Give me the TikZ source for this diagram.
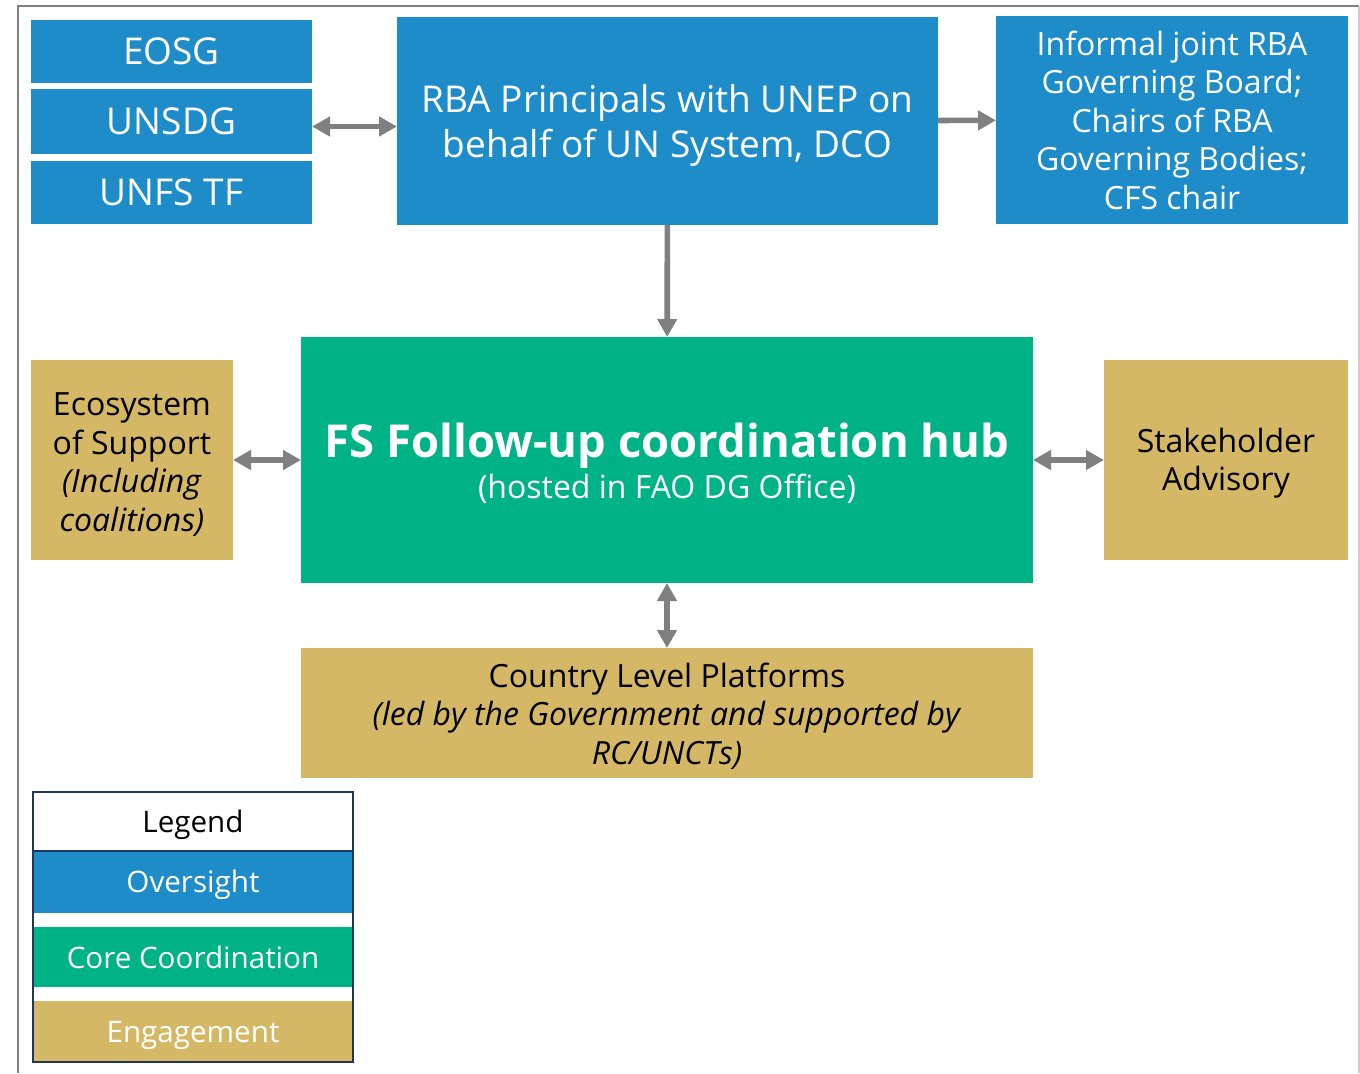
\documentclass[tikz,border=0pt]{standalone}
\usepackage{fontspec}
\setmainfont{Open Sans}
\usetikzlibrary{arrows.meta}

\definecolor{oversight}{RGB}{31,140,202}
\definecolor{coregreen}{RGB}{0,179,134}
\definecolor{engage}{RGB}{212,184,102}
\definecolor{arrowgray}{RGB}{128,128,128}
\definecolor{legendline}{RGB}{31,56,90}
% taller first line pushes a box's text down a little
\newcommand{\tallstrut}[1]{\rule{0pt}{#1}}

\begin{document}
\begin{tikzpicture}[x=0.5pt, y=-0.5pt]
    % Define styles
    \tikzset{
        box/.style={rectangle, inner sep=2pt, outer sep=0pt, align=center, font=\fontsize{16}{19.25}\selectfont},
        oversightbox/.style={box, fill=oversight, text=white},
        corebox/.style={box, fill=coregreen, text=white},
        engagebox/.style={box, fill=engage, text=black},
        legendrow/.style={box, minimum width=160pt, font=\fontsize{14.8}{18}\selectfont},
        arrow/.style={-{Triangle[length=9pt, width=9.5pt]}, line width=2.8pt, draw=arrowgray},
        twoway/.style={{Triangle[length=9pt, width=9.5pt]}-{Triangle[length=9pt, width=9.5pt]}, line width=2.8pt, draw=arrowgray},
    }
    \useasboundingbox (0,0) rectangle (1360,1073);

    % Frame
    \draw[arrowgray, line width=1.2pt] (18,1073) -- (18,6) -- (1359,6);
    \draw[gray!40, line width=1pt] (1359,6) -- (1359,1073);

    % Oversight
    \node[oversightbox, minimum width=140.5pt, minimum height=31.5pt, font=\fontsize{18.5}{22.5}\selectfont] (eosg) at (171.5,51.5) {EOSG};
    \node[oversightbox, minimum width=140.5pt, minimum height=32.5pt, font=\fontsize{18.5}{22.5}\selectfont] (unsdg) at (171.5,121.5) {UNSDG};
    \node[oversightbox, minimum width=140.5pt, minimum height=31.5pt, font=\fontsize{18.5}{22.5}\selectfont] (unfstf) at (171.5,192.5) {UNFS TF};

    \node[oversightbox, minimum width=270.5pt, minimum height=104pt, font=\fontsize{18.5}{22.5}\selectfont] (rba) at (667.5,121) {\tallstrut{18pt}RBA Principals with UNEP on\\behalf of UN System, DCO};
    \node[oversightbox, minimum width=176pt, minimum height=104pt] (informal) at (1172,120) {Informal joint RBA\\Governing Board;\\Chairs of RBA\\Governing Bodies;\\CFS chair};

    % Core coordination
    \node[corebox, minimum width=366pt, minimum height=123pt] (hub) at (667,460) {{\fontsize{22.7}{28}\selectfont\bfseries\tallstrut{20.5pt}FS Follow-up coordination hub}\\[1.5pt](hosted in FAO DG Office)};

    % Engagement
    \node[engagebox, minimum width=101pt, minimum height=100pt] (ecosystem) at (132,460) {\tallstrut{16pt}Ecosystem\\of Support\\\textit{(Including}\\\textit{coalitions)}};
    \node[engagebox, minimum width=122pt, minimum height=100pt] (stakeholder) at (1226,460) {\tallstrut{15.5pt}Stakeholder\\Advisory};
    \node[engagebox, minimum width=366pt, minimum height=65pt] (country) at (667,713) {\tallstrut{15.5pt}Country Level Platforms\\\textit{(led by the Government and supported by}\\\textit{RC/UNCTs)}};

    % Connectors
    \draw[twoway] ([yshift=-2.5pt]unsdg.east) -- ([yshift=-2.5pt]unsdg.east -| rba.west);
    \draw[arrow] (rba) -- (informal);
    \draw[arrow] (rba) -- (hub);
    \draw[twoway] (ecosystem) -- (hub);
    \draw[twoway] (hub) -- (stakeholder);
    \draw[twoway] (hub) -- (country);

    % Legend
    \node[legendrow, minimum height=29.5pt, text=black] (legtitle) at (193,821.5) {\tallstrut{14.2pt}Legend};
    \node[legendrow, fill=oversight, text=white, minimum height=31pt] (legoversight) at (193,882) {\tallstrut{14.2pt}Oversight};
    \node[legendrow, fill=coregreen, text=white, minimum height=30pt] (legcore) at (193,957) {Core Coordination};
    \node[legendrow, fill=engage, text=white, minimum height=30.5pt] (legengage) at (193,1031.5) {\tallstrut{14.2pt}Engagement};
    \draw[legendline, line width=1.3pt] (legtitle.south west) -- (legtitle.south east);
    \draw[legendline, line width=1.3pt] (legtitle.north west) rectangle (legengage.south east);
\end{tikzpicture}
\end{document}
